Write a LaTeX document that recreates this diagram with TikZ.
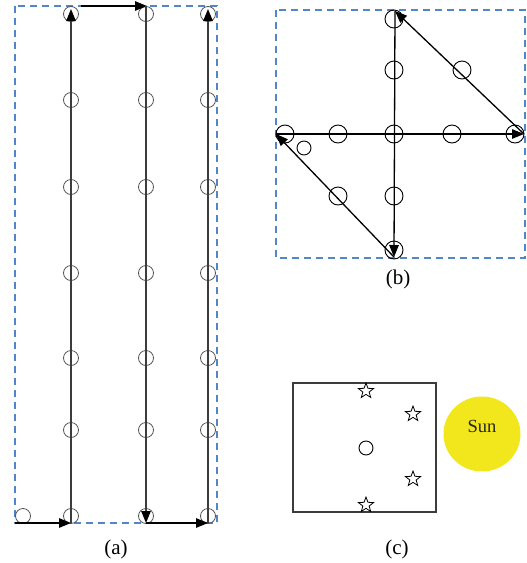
\documentclass[tikz,border=0pt]{standalone}
\usepackage{fontspec}
\setmainfont{Liberation Serif}
\usetikzlibrary{arrows.meta,positioning,shapes.geometric}

\definecolor{dashblue}{RGB}{84,133,201}
\definecolor{sunyellow}{RGB}{241,231,28}
\definecolor{gridgray}{RGB}{85,85,85}

\begin{document}
\begin{tikzpicture}[
  x=1pt, y=-1pt,
  >={Triangle[length=12pt,width=9.5pt,color=black]},
  gridpt/.style={circle, draw=gridgray, minimum size=15pt, inner sep=0pt, line width=0.8pt},
  waypt/.style={circle, draw, minimum size=18pt, inner sep=0pt, line width=0.9pt},
  smallpt/.style={circle, draw, minimum size=14pt, inner sep=0pt, line width=0.9pt},
  starpt/.style={star, star points=5, star point ratio=2.4, draw, minimum size=16pt, inner sep=0pt, line width=0.8pt},
  track/.style={->, draw=gridgray!70!black, line width=1.3pt},
  route/.style={->, line width=1.3pt},
  region/.style={draw=dashblue, line width=1.5pt, dash pattern=on 7pt off 5pt},
  caption/.style={font=\fontsize{21}{25}\selectfont}
]
\useasboundingbox (0,0) rectangle (527,563);

% --- (a) lawn-mower sweep
\draw[region] (15,6) rectangle (217,523);

\node[gridpt] (s0) at (23,516) {};
\node[gridpt] (L1) at (71,14)  {};
\node[gridpt] (L2) at (71,100) {};
\node[gridpt] (L3) at (71,187) {};
\node[gridpt] (L4) at (71,273) {};
\node[gridpt] (L5) at (71,358) {};
\node[gridpt] (L6) at (71,430) {};
\node[gridpt] (L7) at (71,516) {};
\node[gridpt] (M1) at (146,14)  {};
\node[gridpt] (M2) at (146,100) {};
\node[gridpt] (M3) at (146,187) {};
\node[gridpt] (M4) at (146,273) {};
\node[gridpt] (M5) at (146,358) {};
\node[gridpt] (M6) at (146,430) {};
\node[gridpt] (M7) at (146,516) {};
\node[gridpt] (R1) at (208,14)  {};
\node[gridpt] (R2) at (208,100) {};
\node[gridpt] (R3) at (208,187) {};
\node[gridpt] (R4) at (208,273) {};
\node[gridpt] (R5) at (208,358) {};
\node[gridpt] (R6) at (208,430) {};
\node[gridpt] (R7) at (208,516) {};

\coordinate (aIn)  at (15,523);
\coordinate (Lbot) at (71,523);
\coordinate (Ltop) at (71,9);
\coordinate (topL) at (81,6);
\coordinate (topM) at (147,6);
\coordinate (Mtop) at (146,6);
\coordinate (Mbot) at (146,523);
\coordinate (Rbot) at (208,523);
\coordinate (Rtop) at (208,9);

\draw[route] (aIn) -- (Lbot);
\draw[track] (Lbot) -- (Ltop);
\draw[route] (topL) -- (topM);
\draw[track] (Mtop) -- (Mbot);
\draw[route] (Mbot) -- (Rbot);
\draw[track] (Rbot) -- (Rtop);

\node[caption] (capA) at (116,549) {(a)};

% --- (b) star-shaped pattern
\draw[region] (276,10) rectangle (525,258);

\node[waypt] (bN)  at (394,19)  {};
\node[waypt] (bN2) at (394,70)  {};
\node[waypt] (bD)  at (462,70)  {};
\node[waypt] (bW)  at (285,134) {};
\node[waypt] (bW2) at (338,134) {};
\node[waypt] (bC)  at (394,134) {};
\node[waypt] (bE2) at (452,134) {};
\node[waypt] (bE)  at (515,134) {};
\node[smallpt] (bX) at (304,148) {};
\node[waypt] (bSW) at (338,196) {};
\node[waypt] (bS2) at (394,196) {};
\node[waypt] (bS)  at (394,250) {};

\coordinate (wEnd) at (276,134);
\coordinate (eEnd) at (524,134);
\coordinate (nEnd) at (395,11);
\coordinate (sEnd) at (394,257);

\draw[route] (wEnd) -- (eEnd);
\draw[route] (eEnd) -- (nEnd);
\draw[route] (nEnd) -- (sEnd);
\draw[route] (sEnd) -- (wEnd);

\node[caption] (capB) at (398,279) {(b)};

% --- (c) field of view and the sun
\draw[draw=gridgray!70!black, line width=1.2pt] (293,383) rectangle (436,512);

\node[starpt] (st1) at (366,391) {};
\node[starpt] (st2) at (413,414) {};
\node[starpt] (st3) at (413,479) {};
\node[starpt] (st4) at (366,505) {};
\node[smallpt] (cam) at (366,448) {};

\node[ellipse, fill=sunyellow, minimum width=77pt, minimum height=75pt, inner sep=0pt] (sun) at (482,434) {};
\node[font=\fontsize{18.5}{22}\selectfont, text=black!85] (sunLbl) at (482,426) {Sun};

\node[caption] (capC) at (397,549) {(c)};

\end{tikzpicture}
\end{document}
